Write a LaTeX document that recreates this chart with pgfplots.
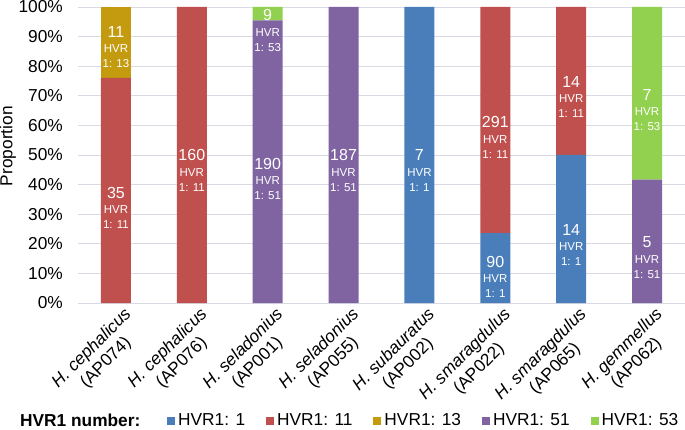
\documentclass[border=0pt]{standalone}
\usepackage{fontspec}
\setmainfont{Liberation Sans}
\usepackage{pgfplots}
\usepackage{pgfplotstable}
\pgfplotsset{compat=1.18}
\definecolor{cblue}{RGB}{74,126,187}
\definecolor{cred}{RGB}{192,80,77}
\definecolor{cgold}{RGB}{196,154,15}
\definecolor{cpurple}{RGB}{128,100,162}
\definecolor{cgreen}{RGB}{146,208,80}
\definecolor{cgrid}{RGB}{218,218,228}

\pgfplotstableread{
x b r g p gr
0 0 76.087 23.913 0 0
1 0 100 0 0 0
2 0 0 0 95.477 4.523
3 0 0 0 100 0
4 100 0 0 0 0
5 23.622 76.378 0 0 0
6 50 50 0 0 0
7 0 0 0 41.667 58.333
}\bars

\pgfplotstableread{
x y n h
0 37.2 35 11
0 91.6 11 13
1 50.0 160 11
2 47.0 190 51
2 97.3 9 53
3 50.0 187 51
4 50.0 7 1
5 61.1 291 11
5 13.9 90 1
6 74.7 14 11
6 24.7 14 1
7 70.3 7 53
7 20.6 5 51
}\labels

\begin{document}
\begin{tikzpicture}
\pgfplotsset{
  common/.style={
    scale only axis,
    width=607bp, height=296bp,
    xmin=-0.5, xmax=7.5, ymin=0, ymax=100,
  }
}
\begin{axis}[
  common,
  name=ax,
  ybar stacked,
  bar width=30bp,
  font=\fontsize{17.3bp}{20bp}\selectfont,
  /pgf/number format/assume math mode=true,
  axis line style={draw=none},
  major tick length=0pt,
  ymajorgrids,
  grid style={cgrid, line width=0.9bp},
  ytick={0,10,...,100},
  yticklabel={\pgfmathprintnumber{\tick}\%},
  yticklabel style={inner sep=0pt, xshift=-15bp},
  xtick={0,...,7},
  xticklabels={
    {\textit{H. cephalicus}\\(AP074)},
    {\textit{H. cephalicus}\\(AP076)},
    {\textit{H. seladonius}\\(AP001)},
    {\textit{H. seladonius}\\(AP055)},
    {\textit{H. subauratus}\\(AP002)},
    {\textit{H. smaragdulus}\\(AP022)},
    {\textit{H. smaragdulus}\\(AP065)},
    {\textit{H. gemmellus}\\(AP062)}},
  xticklabel style={rotate=45, anchor=north east, align=center, inner sep=0pt, xshift=3bp, yshift=-7bp, font=\fontsize{17.3bp}{20bp}\selectfont},
  ylabel={Proportion},
  every axis y label/.style={at={(axis description cs:-0.1153,0.53)}, rotate=90, anchor=center},
  legend columns=-1,
  legend style={draw=none, fill=none, at={(axis description cs:0.1466,-0.397)}, anchor=west,
    inner sep=0pt, font=\fontsize{17.3bp}{20bp}\selectfont,
    nodes={inner sep=0pt},
    /tikz/every even column/.append style={column sep=21bp},
    /tikz/every odd column/.append style={column sep=3bp}},
  legend image code/.code={\fill[#1] (0bp,-4bp) rectangle (8bp,4bp);},
]
\addplot[fill=cblue, draw=none] table[x=x, y=b]{\bars};
\addlegendentry{HVR1: 1}
\addplot[fill=cred, draw=none] table[x=x, y=r]{\bars};
\addlegendentry{HVR1: 11}
\addplot[fill=cgold, draw=none] table[x=x, y=g]{\bars};
\addlegendentry{HVR1: 13}
\addplot[fill=cpurple, draw=none] table[x=x, y=p]{\bars};
\addlegendentry{HVR1: 51}
\addplot[fill=cgreen, draw=none] table[x=x, y=gr]{\bars};
\addlegendentry{HVR1: 53}
\end{axis}
\begin{axis}[
  common,
  hide axis,
]
\addplot[draw=none, mark=none,
  nodes near coords={\pgfplotspointmeta},
  point meta=explicit symbolic,
  every node near coord/.append style={anchor=center, inner sep=0pt, text=white, font=\fontsize{16bp}{16bp}\selectfont},
] table[x=x, y=y, meta=n]{\labels};
\addplot[draw=none, mark=none,
  nodes near coords={HVR\\1: \pgfplotspointmeta},
  point meta=explicit symbolic,
  every node near coord/.append style={anchor=north, yshift=-12.9bp, inner sep=0pt, text=white, align=center, font=\fontsize{11.5bp}{15bp}\selectfont},
] table[x=x, y=y, meta=h]{\labels};
\end{axis}
\node[anchor=west, inner sep=0pt, xshift=-58bp, yshift=-117.5bp, font=\fontsize{17.3bp}{20bp}\selectfont\bfseries] at (ax.south west) {HVR1 number:};
\pgfresetboundingbox
\path (ax.south west) ++(-78bp,-127bp) rectangle ++(685bp,430bp);
\end{tikzpicture}
\end{document}
